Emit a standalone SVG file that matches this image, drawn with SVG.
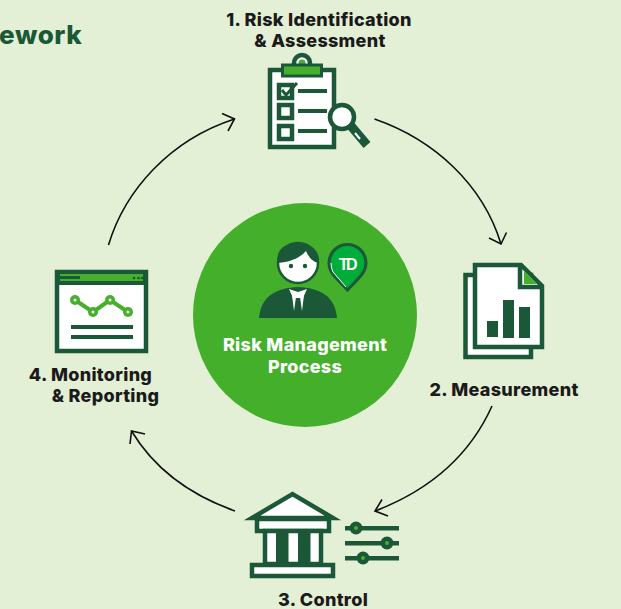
<svg xmlns="http://www.w3.org/2000/svg" width="621" height="609" viewBox="0 0 621 609">
<style>
.t{font-family:"Inter","Liberation Sans",sans-serif;font-weight:800;font-size:18px;letter-spacing:.3px;fill:#1a1a1a;text-anchor:middle}
.d{fill:#1b5838}.g{fill:#46b02c}.w{fill:#fff}
.wd{fill:#fff;stroke:#1b5838;stroke-width:4.500}
.arc{fill:none;stroke:#111;stroke-width:1.600}
</style>
<rect width="621" height="609" fill="#e4f0d5"/>
<text x="-1" y="44" style="font-family:Inter,'Liberation Sans',sans-serif;font-weight:800;font-size:26px;letter-spacing:.6px;fill:#1b5838">ework</text>
<g id="connectors">
<path class="arc" d="M108.500 245C125 190 170 140 234.500 119"/><path class="arc" d="M222 113.500L234.500 119L228 131"/>
<path class="arc" d="M374.500 119C435 140 483 185 501 244"/><path class="arc" d="M489 238L501 244L506.500 232.500"/>
<path class="arc" d="M492 406C470 455 430 490 375 511"/><path class="arc" d="M382 499.500L375 511L388 516"/>
<path class="arc" d="M235 511C190 495 155 470 131.500 431"/><path class="arc" d="M130 444L131.500 431L145 434"/>
</g>
<g id="center">
<circle cx="305" cy="315" r="112" fill="#44af2a"/>
<path class="d" d="M259 318C261 296 276 288 298 287C320 288 335 296 337 318Z"/>
<circle cx="298" cy="263" r="20" class="w" stroke="#1b5838" stroke-width="2.500"/>
<path class="d" d="M278 263C275 247 288 243 298 243C308 243 320 248 319 263C313 262 309 258 306 251C300 258 290 262 278 263Z"/>
<circle cx="291" cy="266" r="2.200" class="d"/><circle cx="305" cy="266" r="2.200" class="d"/>
<path class="w" d="M289 289L298 292L307 289L303 298L293 298Z"/>
<path class="w" d="M292 295L296 297L294 311ZM304 295L300 297L302 311Z"/>
<path d="M347.500 290C335 277 329 272 329 263A18.500 18.500 0 0 1 366 263C366 272 360 277 347.500 290Z" fill="#00ad3a" stroke="#1b5838" stroke-width="3"/>
<path d="M346 287L333 272Q331 268 331 263" fill="none" stroke="#fff" stroke-width="1"/>
<text x="347" y="270" text-anchor="middle" style="font-family:'Liberation Sans',sans-serif;font-weight:700;font-size:16px;fill:#fff;letter-spacing:-2.500px">TD</text>
<text x="305" y="351" class="t" style="fill:#fff">Risk Management</text>
<text x="305" y="373" class="t" style="fill:#fff">Process</text>
</g>
<g id="node-1">
<text x="319" y="26" class="t">1. Risk Identification</text>
<text x="320" y="47" class="t">&amp; Assessment</text>
<rect x="270" y="70" width="64" height="77" class="wd"/>
<path class="wd" d="M294 68V63A8 8 0 0 1 310 63V68"/>
<circle cx="302" cy="63" r="3.500" class="g"/>
<rect x="282.500" y="65" width="39" height="11" class="g" stroke="#1b5838" stroke-width="3"/>
<rect x="279" y="85" width="13" height="13" class="wd"/>
<path d="M282 90L286 95L297 83" fill="none" stroke="#1b5838" stroke-width="3"/>
<rect x="279" y="105" width="13" height="13" class="wd"/>
<rect x="279" y="126" width="13" height="13" class="wd"/>
<rect x="298" y="89" width="29" height="4" class="d"/><rect x="298" y="109" width="29" height="4" class="d"/><rect x="298" y="129" width="29" height="4" class="d"/>
<path d="M351 126L367 145" stroke="#1b5838" stroke-width="9" fill="none"/>
<path d="M355 133L360 139" stroke="#fff" stroke-width="2" fill="none"/>
<circle cx="342" cy="117" r="12" class="wd"/>
</g>
<g id="node-2">
<path class="wd" d="M465.500 275H531V357H465.500Z"/>
<path class="wd" d="M475 265H521L542 286V347H475Z"/>
<path class="g" d="M524 271L537 284H524Z"/>
<path d="M520 265V287H542" fill="none" stroke="#1b5838" stroke-width="4.500"/>
<rect x="487" y="321" width="11" height="16" class="d"/>
<rect x="503" y="300" width="11" height="38" class="d"/>
<rect x="519" y="307" width="11" height="31" class="d"/>
<text x="504" y="396" class="t">2. Measurement</text>
</g>
<g id="node-3">
<path class="wd" d="M252 518L292.500 494L333 518Z"/>
<rect x="257" y="519" width="72" height="12" class="wd"/>
<rect x="265" y="531" width="56" height="33" class="wd"/>
<rect x="276" y="531" width="12.500" height="33" class="d"/><rect x="298" y="531" width="12.500" height="33" class="d"/>
<rect x="252" y="565" width="81" height="11" class="wd"/>
<rect x="345" y="526" width="54" height="4.500" class="d"/><rect x="345" y="541" width="54" height="4.500" class="d"/><rect x="345" y="556" width="54" height="4.500" class="d"/>
<circle cx="356" cy="528" r="6.500" class="d"/><circle cx="387" cy="543" r="6.500" class="d"/><circle cx="363" cy="558" r="6.500" class="d"/>
<circle cx="356" cy="528" r="2" class="g"/><circle cx="387" cy="543" r="2" class="g"/><circle cx="363" cy="558" r="2" class="g"/>
<text x="323" y="606" class="t">3. Control</text>
</g>
<g id="node-4">
<rect x="57" y="272" width="89" height="79" class="wd"/>
<rect x="59" y="274" width="85" height="11" class="d"/>
<rect x="60" y="274" width="83" height="7" class="g"/>
<rect x="60" y="276" width="20" height="3" class="d"/>
<circle cx="134" cy="278" r="1.300" class="d"/><circle cx="138.500" cy="278" r="1.300" class="d"/><circle cx="142" cy="278" r="1.300" class="d"/>
<path d="M75 300L93 312L110 300L128 312" fill="none" stroke="#46b02c" stroke-width="4"/>
<g class="g"><circle cx="75" cy="300" r="5"/><circle cx="93" cy="312" r="5"/><circle cx="110" cy="300" r="5"/><circle cx="128" cy="312" r="5"/></g>
<g class="w"><circle cx="75" cy="300" r="1.500"/><circle cx="93" cy="312" r="1.500"/><circle cx="110" cy="300" r="1.500"/><circle cx="128" cy="312" r="1.500"/></g>
<rect x="71" y="325" width="62" height="4" class="d"/><rect x="71" y="335" width="62" height="4" class="d"/>
<text x="90.500" y="381" class="t">4. Monitoring</text>
<text x="105.500" y="402" class="t">&amp; Reporting</text>
</g>
</svg>
